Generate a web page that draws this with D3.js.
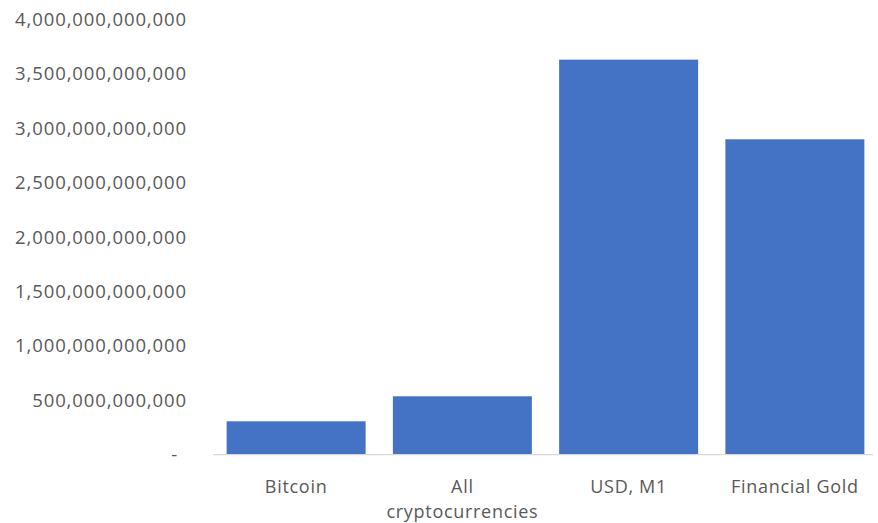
<!DOCTYPE html>
<html><head><meta charset="utf-8">
<script src="https://cdn.jsdelivr.net/npm/d3@7"></script>
<style>body{margin:0;background:#fff}</style></head>
<body><svg id="c" width="878" height="523"></svg>
<script>
const categories = ["Bitcoin", "All cryptocurrencies", "USD, M1", "Financial Gold"];
const values = [307e9, 537e9, 3631e9, 2899e9];
const yTicks = [0, 5e11, 1e12, 1.5e12, 2e12, 2.5e12, 3e12, 3.5e12, 4e12];

const svg = d3.select("#c");
const m = {left: 213, right: 0, top: 19.5, bottom: 68.3};
const W = 878, H = 523;
const x = d3.scaleBand().domain(categories).range([m.left, W - m.right]).paddingInner(0.164).paddingOuter(0.082);
const y = d3.scaleLinear().domain([0, 4e12]).range([H - m.bottom, m.top]);
const font = "'Open Sans', sans-serif";
const col = "#595959";

svg.append("g").selectAll("rect").data(values).join("rect")
  .attr("x", (d, i) => x(categories[i]))
  .attr("width", x.bandwidth())
  .attr("y", d => y(d))
  .attr("height", d => y(0) - y(d))
  .attr("fill", "#4472c4");

// baseline
svg.append("line").attr("x1", m.left).attr("x2", W - 5)
  .attr("y1", y(0)).attr("y2", y(0)).attr("stroke", "#d9d9d9").attr("stroke-width", 1.3);

const ya = svg.append("g").attr("transform", `translate(187,0)`)
  .call(d3.axisLeft(y).tickValues(yTicks).tickSize(0).tickPadding(0)
    .tickFormat(d => d === 0 ? "-" : d3.format(",.0f")(d)));
ya.select(".domain").remove();
ya.selectAll("text").attr("font-family", font).attr("font-size", 18.5).attr("fill", col)
  .attr("letter-spacing", 0.9)
  .attr("dx", d => d === 0 ? -9 : 0);

const xa = svg.append("g").attr("transform", `translate(0,${y(0)})`)
  .call(d3.axisBottom(x).tickSize(0).tickFormat(""));
xa.select(".domain").remove();
xa.selectAll(".tick").each(function(d) {
  const t = d3.select(this).append("text").attr("text-anchor", "middle")
    .attr("font-family", font).attr("font-size", 18).attr("fill", col).attr("letter-spacing", 0.7);
  const lines = d === "All cryptocurrencies" ? ["All", "cryptocurrencies"] : [d];
  lines.forEach((l, i) => t.append("tspan").attr("x", 0).attr("y", 38 + i * 25).text(l));
});
</script></body></html>
